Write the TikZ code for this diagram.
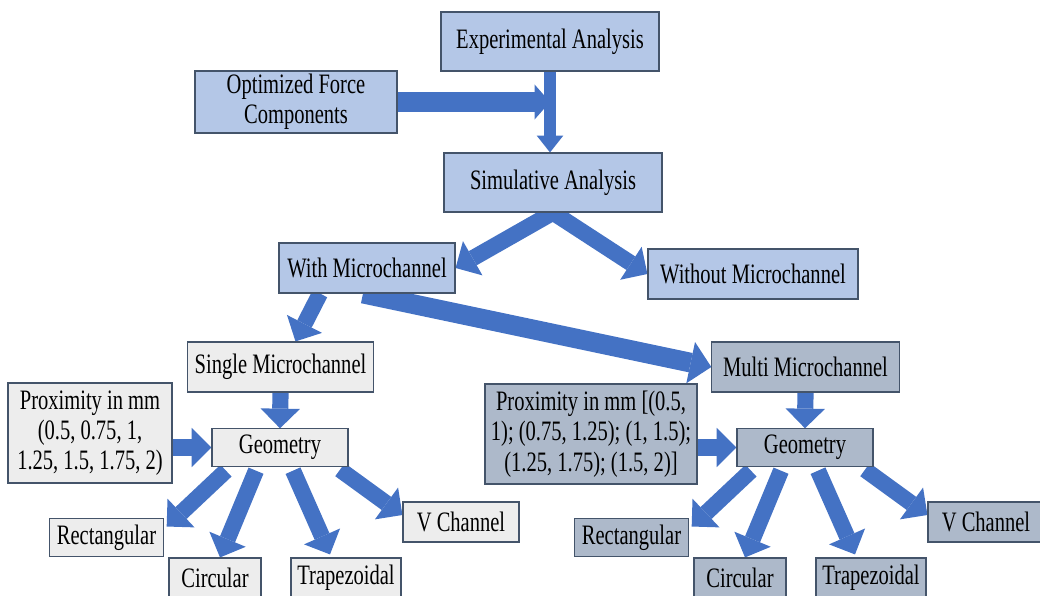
\documentclass[tikz,border=0pt]{standalone}
\usepackage{fontspec}
\setmainfont{Liberation Serif}[FakeStretch=0.73]
\usetikzlibrary{arrows.meta, positioning, calc, backgrounds}

\definecolor{topblue}{HTML}{B4C7E7}
\definecolor{leftgray}{HTML}{EDEDED}
\definecolor{rightgray}{HTML}{ADB9CA}
\definecolor{arrowblue}{HTML}{4472C4}
\definecolor{edgegray}{HTML}{44546A}

\tikzset{
  box/.style={draw=edgegray, line width=0.8pt, align=center, inner sep=2pt,
              font=\fontsize{20}{21.5}\selectfont},
  blockarrow/.style={draw=arrowblue, line width=11.5pt,
              -{Triangle[width=28pt,length=14pt,line width=0pt]}},
}

\begin{document}
\begin{tikzpicture}[x=0.025cm, y=0.025cm]
            \useasboundingbox (0,0) rectangle (1040,595);

            % analysis part
            \node[box, fill=topblue, minimum width=5.45cm, minimum height=1.475cm] (exp) at (550,553.5) {Experimental Analysis};
            \node[box, fill=topblue, minimum width=5.05cm, minimum height=1.55cm] (opt) at (296,493) {Optimized Force\\Components};
            \node[box, fill=topblue, minimum width=5.45cm, minimum height=1.475cm] (sim) at (553,412.5) {Simulative Analysis};
            \node[box, fill=topblue, minimum width=4.4cm, minimum height=1.25cm] (withmc) at (367,327) {With Microchannel};
            \node[box, fill=topblue, minimum width=5.25cm, minimum height=1.25cm] (withoutmc) at (753,321) {Without Microchannel};

            % single and multi
            \node[box, fill=leftgray, minimum width=4.63cm, minimum height=1.25cm] (single) at (280.5,228) {Single Microchannel};
            \node[box, fill=rightgray, minimum width=4.68cm, minimum height=1.25cm] (multi) at (805.5,228) {Multi Microchannel};
            \node[box, fill=leftgray, minimum width=4.1cm, minimum height=2.5cm] (proxL) at (90,162) {Proximity in mm\\(0.5, 0.75, 1,\\1.25, 1.5, 1.75, 2)};
            \node[box, fill=rightgray, minimum width=5.3cm, minimum height=2.5cm] (proxR) at (591,161) {Proximity in mm [(0.5,\\1); (0.75, 1.25); (1, 1.5);\\(1.25, 1.75); (1.5, 2)]};

            \begin{scope}[on background layer]
                \draw[blockarrow, line width=8.5pt, -{Triangle[width=19pt,length=12pt,line width=0pt]}] (exp.south) -- (exp.south |- sim.north);
                \draw[blockarrow, line width=14pt, -{Triangle[width=25pt,length=11pt,line width=0pt]}] (opt.east) -- (opt.east -| exp.south);
                \draw[blockarrow] (sim.south) -- (withmc.east);
                \draw[blockarrow] (sim.south) -- (withoutmc.west);
                \draw[blockarrow] ($(withmc.south)+(-47,0)$) -- ($(single.north)+(15,0)$);
                \draw[blockarrow, line width=14pt, -{Triangle[width=30pt,length=15pt,line width=0pt]}] ($(withmc.south)+(-4,0)$) -- (multi.west);
            \end{scope}

            % geometry, same for both sides
            \foreach \s/\dx/\col in {L/0/leftgray, R/525/rightgray} {
                \node[box, fill=\col, minimum width=3.4cm, minimum height=0.93cm] (geo\s) at (280+\dx,147.5) {Geometry};
                \node[box, fill=\col, minimum width=2.83cm, minimum height=0.97cm] (rect\s) at (106.5+\dx,57.5) {Rectangular};
                \node[box, fill=\col, minimum width=2.3cm, minimum height=1cm] (circ\s) at (215+\dx,17) {Circular};
                \node[box, fill=\col, minimum width=2.75cm, minimum height=1cm] (trap\s) at (346+\dx,17) {Trapezoidal};
                \node[box, fill=\col, minimum width=2.9cm, minimum height=1cm] (vch\s) at (461+\dx,73) {V Channel};
                \begin{scope}[on background layer]
                    \draw[blockarrow] (geo\s.west -| prox\s.east) -- (geo\s.west);
                    \draw[blockarrow] ($(geo\s.south)+(-54,-4)$) -- ($(rect\s.north east)+(3,-9)$);
                    \draw[blockarrow] ($(geo\s.south)+(-24,-4)$) -- ($(circ\s.north)+(5,0)$);
                    \draw[blockarrow] ($(geo\s.south)+(13,-4)$) -- ($(trap\s.north)+(-16,3)$);
                    \draw[blockarrow] ($(geo\s.south)+(60,-3)$) -- ($(vch\s.west)+(0,7)$);
                \end{scope}
            }

            \begin{scope}[on background layer]
                \draw[blockarrow] (single.south) -- (geoL.north);
                \draw[blockarrow] (multi.south) -- (geoR.north);
            \end{scope}
        \end{tikzpicture}
\end{document}
